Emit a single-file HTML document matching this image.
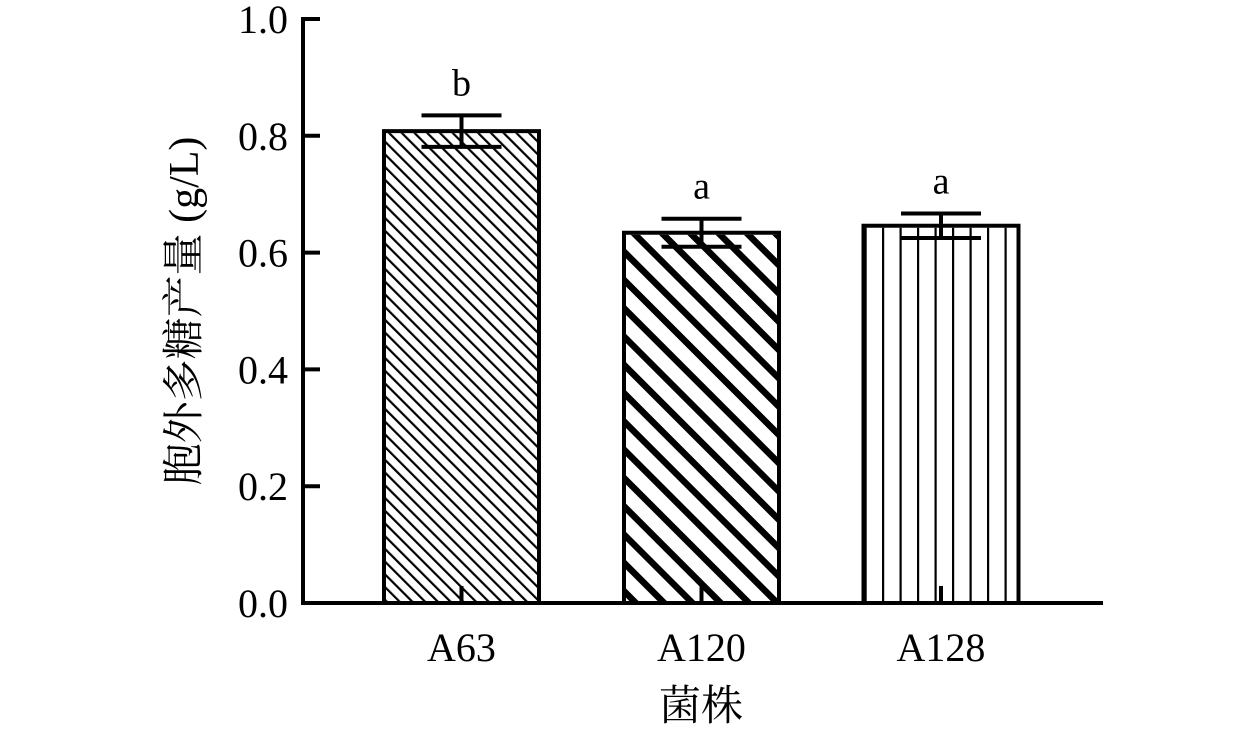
<!DOCTYPE html>
<html><head><meta charset="utf-8"><style>
body{margin:0;background:#fff}
svg text{font-family:"Liberation Serif","Noto Serif CJK SC",serif;fill:#000}
</style></head><body>
<svg width="1259" height="734" viewBox="0 0 1259 734">
<defs>
<pattern id="p0" patternUnits="userSpaceOnUse" width="9" height="9" patternTransform="rotate(-45)"><rect x="0" y="0" width="2.2" height="9" fill="#000"/></pattern>
<pattern id="p1" patternUnits="userSpaceOnUse" width="20" height="20" patternTransform="rotate(-45)"><rect x="0" y="0" width="6.5" height="20" fill="#000"/></pattern>
<pattern id="p2" patternUnits="userSpaceOnUse" width="17.5" height="10"><rect x="7" y="0" width="2.2" height="10" fill="#000"/></pattern>
</defs>
<g id="plot"></g>
</svg>
<script>
const categories=["A63","A120","A128"];
const values=[0.808,0.634,0.646];
const errors=[0.027,0.024,0.021];
const letters=["b","a","a"];
const yTicks=[0,0.2,0.4,0.6,0.8,1.0];
const yTickLabels=["0.0","0.2","0.4","0.6","0.8","1.0"];
const NS="http://www.w3.org/2000/svg";
const g=document.getElementById('plot');
const y0=603,y1=19,xL=303,xR=1103;
const yS=v=>y0-(y0-y1)*v;
const centers=[461.5,701.5,941];
const xS=i=>centers[i];
const bw=155;
function mk(t,a,p){const e=document.createElementNS(NS,t);for(const k in a)e.setAttribute(k,a[k]);(p||g).appendChild(e);return e;}
const pats=["url(#p0)","url(#p1)","url(#p2)"];
categories.forEach((c,i)=>{
  const cx=xS(i),top=yS(values[i]);
  const r=mk('rect',{x:cx-bw/2,y:top,width:bw,height:y0-top,fill:'#fff',stroke:'#000','stroke-width':4});
  
  
  const r2=mk('rect',{x:cx-bw/2+2,y:top+2,width:bw-4,height:y0-top-4,fill:pats[i]});
  
  
  const eh=yS(values[i]+errors[i]),el=yS(values[i]-errors[i]);
  const eb=mk('g',{stroke:'#000','stroke-width':4});
  
  
  mk('line',{x1:cx,x2:cx,y1:eh,y2:el},eb);
  mk('line',{x1:cx-40,x2:cx+40,y1:eh,y2:eh},eb);
  mk('line',{x1:cx-40,x2:cx+40,y1:el,y2:el},eb);
  mk('line',{x1:cx,x2:cx,y1:y0,y2:y0-17},eb);
  const lt=mk('text',{x:cx,y:eh-20,'text-anchor':'middle','font-size':38});
  lt.textContent=letters[i];
  
  
  const xl=mk('text',{x:cx,y:661,'text-anchor':'middle','font-size':40});
  xl.textContent=c;
  
  
});
const ax=mk('g',{stroke:'#000','stroke-width':4});


mk('line',{x1:xL,x2:xL,y1:y1-2,y2:y0+2},ax);
mk('line',{x1:xL-2,x2:xR,y1:y0,y2:y0},ax);
yTicks.forEach((v,i)=>{
  mk('line',{x1:xL,x2:xL+17,y1:yS(v),y2:yS(v)},ax);
  const t=mk('text',{x:xL-15,y:yS(v)+14,'text-anchor':'end','font-size':40});
  t.textContent=yTickLabels[i];
  
  
});
const xt=mk('text',{x:701,y:720,'text-anchor':'middle','font-size':42});
xt.textContent="菌株";


const yt=mk('text',{x:0,y:0,'text-anchor':'middle','font-size':42,transform:'translate(198,311) rotate(-90)'});
yt.textContent="胞外多糖产量 (g/L)";


</script>
</body></html>
